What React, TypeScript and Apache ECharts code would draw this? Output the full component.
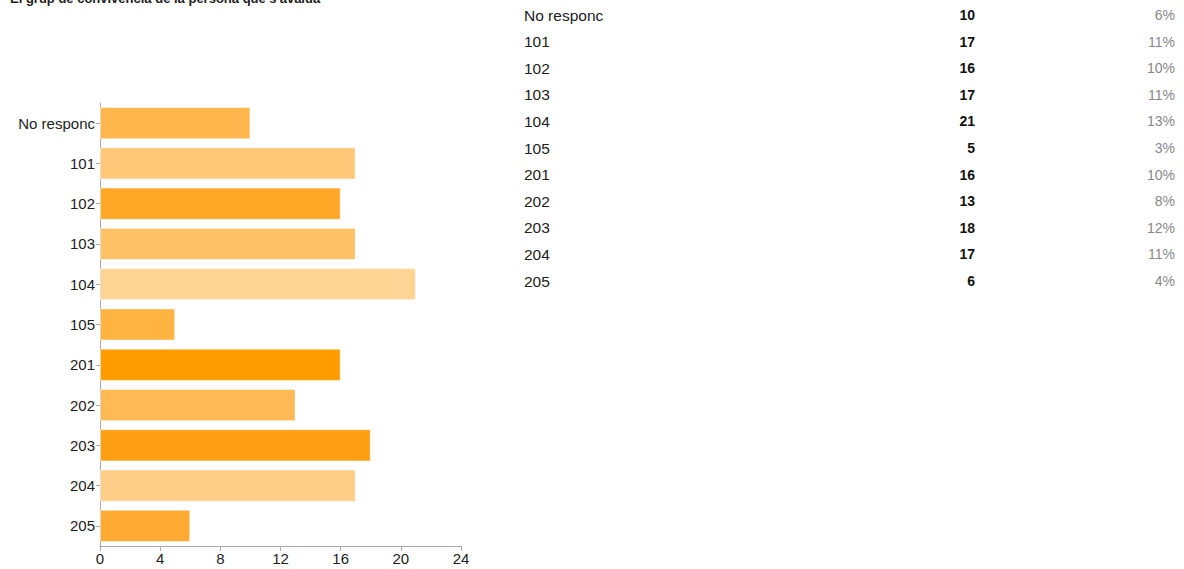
import React, { useEffect, useRef } from "react";
import * as echarts from "echarts";

const categories = ["No responc", "101", "102", "103", "104", "105", "201", "202", "203", "204", "205"];
const counts = [10, 17, 16, 17, 21, 5, 16, 13, 18, 17, 6];
const percents = ["6%", "11%", "10%", "11%", "13%", "3%", "10%", "8%", "12%", "11%", "4%"];
const barColors = ["#FFB74D", "#FFC878", "#FFA726", "#FFC266", "#FFD596", "#FFB340", "#FF9C00", "#FFBA55", "#FF9F14", "#FFCE88", "#FFAB33"];
const xTicks = [0, 4, 8, 12, 16, 20, 24];
const title = "El grup de convivència de la persona que s'avalua";

export default function App() {
  const ref = useRef<HTMLDivElement>(null);
  useEffect(() => {
    if (!ref.current) return;
    const chart = echarts.init(ref.current, null, { renderer: "svg" });
    const font = "Liberation Sans, Arial, sans-serif";
    const rowTop = 15;
    const rowStep = 26.6;
    const tableTexts: any[] = [];
    categories.forEach((c, i) => {
      const y = rowTop + i * rowStep;
      tableTexts.push({
        type: "text", x: 524, y: y,
        style: { text: c, fontSize: 15.5, fontFamily: font, fill: "#222", verticalAlign: "middle" },
      });
      tableTexts.push({
        type: "text", x: 975, y: y,
        style: { text: String(counts[i]), fontSize: 14, fontWeight: "bold", fontFamily: font, fill: "#111", align: "right", verticalAlign: "middle" },
      });
      tableTexts.push({
        type: "text", x: 1175, y: y,
        style: { text: percents[i], fontSize: 14, fontFamily: font, fill: "#888", align: "right", verticalAlign: "middle" },
      });
    });
    chart.setOption({
      animation: false,
      grid: { left: 100, top: 103, width: 361, height: 443, containLabel: false },
      xAxis: {
        type: "value", min: xTicks[0], max: xTicks[xTicks.length - 1], interval: 4,
        axisLine: { show: true, lineStyle: { color: "#aaa" } },
        axisTick: { show: true, length: 5, lineStyle: { color: "#aaa" } },
        splitLine: { show: false },
        axisLabel: { fontSize: 15, fontFamily: font, color: "#222", margin: 5 },
      },
      yAxis: {
        type: "category", data: categories, inverse: true,
        axisLine: { show: true, lineStyle: { color: "#aaa" } },
        axisTick: { show: true, alignWithLabel: true, length: 4, lineStyle: { color: "#aaa" } },
        axisLabel: { fontSize: 15, fontFamily: font, color: "#222", margin: 5 },
      },
      series: [{
        type: "bar",
        data: counts.map((v, i) => ({ value: v, itemStyle: { color: barColors[i] } })),
        barCategoryGap: "20%",
        itemStyle: { borderColor: "rgba(255,255,255,0.5)", borderWidth: 1 },
      }],
      graphic: [
        {
          type: "text", left: 10, top: -8,
          style: { text: title, fontSize: 13, fontWeight: "bold", fontFamily: font, fill: "#222" },
        },
        ...tableTexts,
      ],
    });
    return () => chart.dispose();
  }, []);
  return <div ref={ref} style={{ position: "fixed", left: 0, top: 0, width: 1184, height: 569, background: "#fff" }} />;
}
